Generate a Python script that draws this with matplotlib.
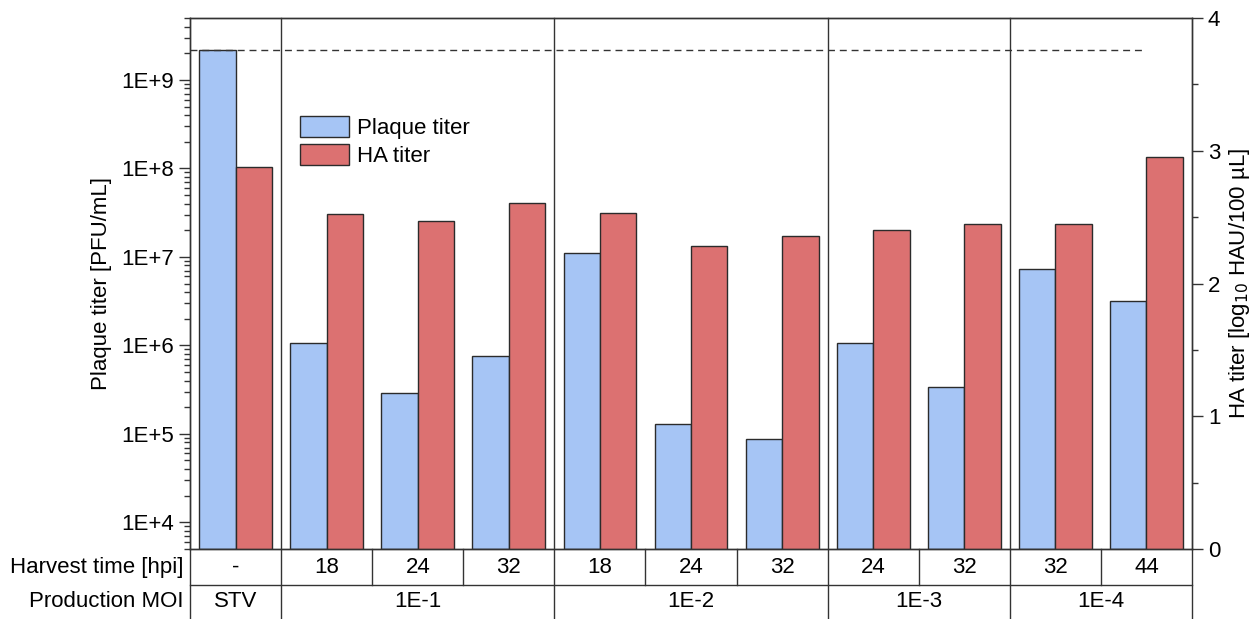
import numpy as np
import matplotlib.pyplot as plt
import matplotlib.transforms as mtransforms
from matplotlib.ticker import FuncFormatter, LogLocator, MultipleLocator, NullFormatter
from matplotlib.patches import Patch

plt.rcParams['font.family'] = ['Liberation Sans', 'DejaVu Sans']
plt.rcParams['font.size'] = 16

# data
moi_groups = ['STV', '1E-1', '1E-2', '1E-3', '1E-4']
group_sizes = [1, 3, 3, 2, 2]
harvest_times = ['-', '18', '24', '32', '18', '24', '32', '24', '32', '32', '44']
plaque_titer = [2.15e9, 1.05e6, 2.9e5, 7.6e5, 1.1e7, 1.3e5, 8.8e4, 1.05e6, 3.4e5, 7.2e6, 3.2e6]
ha_titer = [2.88, 2.52, 2.47, 2.61, 2.53, 2.28, 2.36, 2.40, 2.45, 2.45, 2.95]
stv_reference = plaque_titer[0]

blue = '#a6c5f5'
red = '#dc7171'
edge = '#2b2b2b'
line_col = '#333333'

ymin, ymax = 5e3, 5e9

fig = plt.figure(figsize=(12.57, 6.19), dpi=100)
ax = fig.add_axes([0.1512, 0.1131, 0.7971, 0.8578])
ax2 = ax.twinx()

x = np.arange(len(harvest_times))
w = 0.4
n = len(x)

ax.set_yscale('log')
ax.bar(x - w / 2, np.array(plaque_titer) - ymin, width=w, bottom=ymin,
       color=blue, edgecolor=edge, linewidth=1.0)
ax.plot([-0.5, n - 1], [stv_reference, stv_reference], color=line_col,
        lw=1.0, dashes=(5, 3.5))
ax.set_ylim(ymin, ymax)
ax.set_xlim(-0.5, n - 0.5)
ax.set_xticks([])

ax2.bar(x + w / 2, ha_titer, width=w, color=red, edgecolor=edge, linewidth=1.0)
ax2.set_ylim(0, 4)
ax2.set_xlim(-0.5, n - 0.5)

# left axis ticks
ax.yaxis.set_major_locator(LogLocator(base=10, numticks=20))
ax.yaxis.set_minor_locator(LogLocator(base=10, subs=np.arange(2, 10), numticks=20))
ax.yaxis.set_minor_formatter(NullFormatter())
ax.yaxis.set_major_formatter(FuncFormatter(lambda v, p: f'1E+{int(round(np.log10(v)))}'))
ax.tick_params(axis='y', which='major', direction='out', length=8, width=1, color=line_col)
ax.tick_params(axis='y', which='minor', direction='out', length=4.5, width=1, color=line_col)

# right axis ticks
ax2.yaxis.set_major_locator(MultipleLocator(1))
ax2.yaxis.set_minor_locator(MultipleLocator(0.5))
ax2.tick_params(axis='y', which='major', direction='out', length=8, width=1, color=line_col)
ax2.tick_params(axis='y', which='minor', direction='out', length=4.5, width=1, color=line_col)

for a in (ax, ax2):
    for s in a.spines.values():
        s.set_color(line_col)
        s.set_linewidth(1.0)

ax.set_ylabel('Plaque titer [PFU/mL]', labelpad=7)
ax2.set_ylabel(r'HA titer [log$_{10}$ HAU/100 µL]', labelpad=5)

# table below the plot
trans = mtransforms.blended_transform_factory(ax.transData, ax.transAxes)
row_mid = -0.068
table_bottom = -0.135
lkw = dict(transform=trans, clip_on=False, color=line_col, lw=1.0)

bounds = np.cumsum(group_sizes) - 0.5
starts = np.concatenate([[-0.5], bounds[:-1]])
for b in bounds[:-1]:
    ax.plot([b, b], [1, table_bottom], **lkw)
for b in (-0.5, n - 0.5):
    ax.plot([b, b], [0, table_bottom], **lkw)
for s, e in zip(starts, bounds):
    for c in np.arange(s + 1, e):
        ax.plot([c, c], [0, row_mid], **lkw)
ax.plot([-0.5, n - 0.5], [row_mid, row_mid], **lkw)

for xi, t in zip(x, harvest_times):
    ax.text(xi, -0.034, t, transform=trans, ha='center', va='center')
for s, e, g in zip(starts, bounds, moi_groups):
    ax.text((s + e) / 2, -0.099, g, transform=trans, ha='center', va='center')

ax.text(-0.007, -0.034, 'Harvest time [hpi]', transform=ax.transAxes, ha='right', va='center')
ax.text(-0.007, -0.099, 'Production MOI', transform=ax.transAxes, ha='right', va='center')

handles = [Patch(facecolor=blue, edgecolor=edge, linewidth=1.0, label='Plaque titer'),
           Patch(facecolor=red, edgecolor=edge, linewidth=1.0, label='HA titer')]
ax2.legend(handles=handles, loc='upper left', bbox_to_anchor=(0.11, 0.815),
           frameon=False, borderaxespad=0, borderpad=0, handlelength=2.2,
           handleheight=1.05, labelspacing=0.22, handletextpad=0.35)

fig.savefig('out.png', dpi=100)
